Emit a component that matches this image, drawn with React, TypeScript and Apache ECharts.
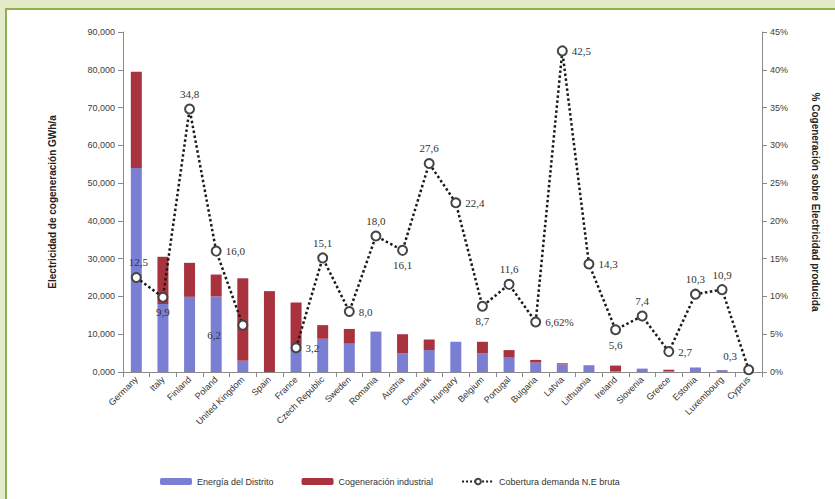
import React, { useEffect, useRef } from "react";
import * as echarts from "echarts";

const categories = [
  "Germany", "Italy", "Finland", "Poland", "United Kingdom", "Spain", "France",
  "Czech Republic", "Sweden", "Romania", "Austria", "Denmark", "Hungary", "Belgium",
  "Portugal", "Bulgaria", "Latvia", "Lithuania", "Ireland", "Slovenia", "Greece",
  "Estonia", "Luxembourg", "Cyprus",
];

const districtEnergy = [54000, 18000, 19900, 20000, 3000, 0, 7000, 8800, 7500, 10700, 5000, 5800, 8000, 5000, 3800, 2500, 2000, 1800, 200, 900, 200, 1200, 500, 0];
const industrialChp = [25500, 12500, 9000, 5800, 21800, 21400, 11400, 3600, 3900, 0, 5000, 2800, 0, 3000, 2000, 700, 300, 0, 1500, 0, 400, 0, 0, 0];
const coverage = [12.5, 9.9, 34.8, 16.0, 6.2, null, 3.2, 15.1, 8.0, 18.0, 16.1, 27.6, 22.4, 8.7, 11.6, 6.62, 42.5, 14.3, 5.6, 7.4, 2.7, 10.3, 10.9, 0.3];

const leftTicks = { min: 0, max: 90000, interval: 10000 };
const rightTicks = { min: 0, max: 45, interval: 5 };

const seriesNames = ["Energía del Distrito", "Cogeneración industrial", "Cobertura demanda N.E bruta"];
const leftTitle = "Electricidad de cogeneración GWh/a";
const rightTitle = "% Cogeneración sobre Electricidad producida";

const labelPlacement: any[] = [
  [-2, -16], "bottom", "top", "right", [-30, 10], "top", "right", "top", "right", "top",
  "bottom", "top", "right", "bottom", "top", "right", "right", "right", "bottom", "top",
  "right", "top", "top", [-20, -14],
];

export default function App() {
  const ref = useRef<HTMLDivElement>(null);
  useEffect(() => {
    if (!ref.current) return;
    const chart = echarts.init(ref.current, null, { renderer: "svg" });
    const axisFont = { fontFamily: "Liberation Sans, Arial, sans-serif", fontSize: 9, color: "#404040" };
    chart.setOption({
      animation: false,
      backgroundColor: "transparent",
      grid: { left: 123, right: 73, top: 32, bottom: 127 },
      legend: {
        bottom: 8,
        left: 155,
        itemWidth: 32,
        itemHeight: 7,
        itemGap: 28,
        textStyle: { ...axisFont, fontSize: 9, color: "#333" },
        data: seriesNames,
      },
      xAxis: {
        type: "category",
        data: categories,
        axisLine: { lineStyle: { color: "#8a8a8a" } },
        axisTick: { show: true, lineStyle: { color: "#8a8a8a" } },
        axisLabel: { ...axisFont, rotate: 45, margin: 6, interval: 0, color: "#333" },
      },
      yAxis: [
        {
          type: "value",
          ...leftTicks,
          name: leftTitle,
          nameLocation: "middle",
          nameRotate: 90,
          nameGap: 66,
          nameTextStyle: { fontFamily: "Liberation Sans, Arial, sans-serif", fontSize: 10, fontWeight: "bold", color: "#222" },
          axisLine: { show: true, lineStyle: { color: "#8a8a8a" } },
          axisTick: { show: true, lineStyle: { color: "#8a8a8a" } },
          splitLine: { show: false },
          axisLabel: {
            ...axisFont,
            formatter: (v: number) => (v === 0 ? "0,000" : v.toLocaleString("en-US")),
          },
        },
        {
          type: "value",
          ...rightTicks,
          name: rightTitle,
          nameLocation: "middle",
          nameRotate: -90,
          nameGap: 48,
          nameTextStyle: { fontFamily: "Liberation Sans, Arial, sans-serif", fontSize: 10, fontWeight: "bold", color: "#222" },
          axisLine: { show: true, lineStyle: { color: "#8a8a8a" } },
          axisTick: { show: true, lineStyle: { color: "#8a8a8a" } },
          splitLine: { show: false },
          axisLabel: { ...axisFont, formatter: (v: number) => v + "%" },
        },
      ],
      series: [
        {
          name: seriesNames[0],
          type: "bar",
          stack: "chp",
          barWidth: 11,
          itemStyle: { color: "#7b7fd3" },
          data: districtEnergy,
        },
        {
          name: seriesNames[1],
          type: "bar",
          stack: "chp",
          barWidth: 11,
          itemStyle: { color: "#a8323e" },
          data: industrialChp,
        },
        {
          name: seriesNames[2],
          type: "line",
          yAxisIndex: 1,
          symbol: "emptyCircle",
          symbolSize: 9,
          z: 5,
          lineStyle: { type: "dotted", width: 2.5, color: "#1a1a1a" },
          itemStyle: { color: "#444", borderColor: "#444", borderWidth: 1.5 },
          data: coverage.map((v, i) => ({
            value: v,
            label: {
              show: v !== null,
              position: labelPlacement[i],
              distance: 4,
              fontFamily: "Liberation Serif, Times New Roman, serif",
              fontSize: 11,
              color: "#333",
              formatter: () =>
                i === 15
                  ? (v as number).toFixed(2).replace(".", ",") + "%"
                  : (v as number).toFixed(1).replace(".", ","),
            },
          })),
        },
      ],
    });
    return () => chart.dispose();
  }, []);

  return (
    <div style={{ position: "fixed", left: 0, top: 0, width: 835, height: 499, background: "#e3ebcb", overflow: "hidden" }}>
      <div
        style={{
          position: "absolute",
          left: 5,
          top: 8,
          width: 840,
          height: 500,
          background: "#ffffff",
          borderLeft: "2px solid #8db14c",
          borderTop: "2px solid #8db14c",
        }}
      />
      <div ref={ref} style={{ position: "absolute", left: 0, top: 0, width: 835, height: 499 }} />
    </div>
  );
}
